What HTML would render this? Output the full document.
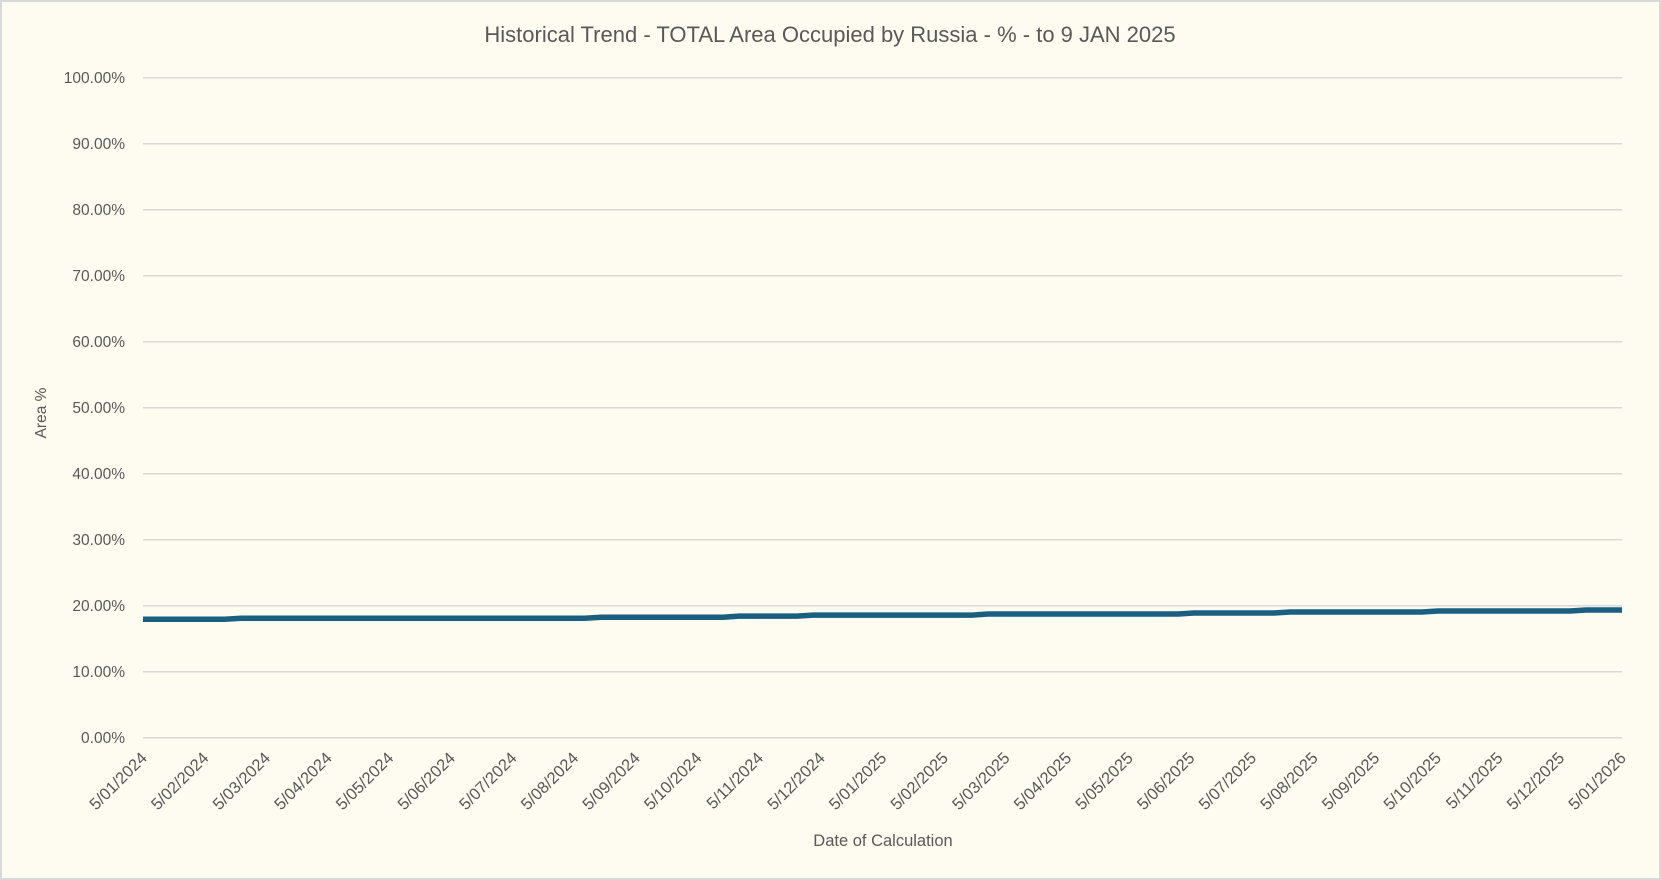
<!DOCTYPE html>
<html><head><meta charset="utf-8"><style>
html,body{margin:0;padding:0;background:#fefbf0;}
svg{display:block;font-family:"Liberation Sans",sans-serif;}
</style></head><body>
<svg width="1661" height="880" viewBox="0 0 1661 880" xmlns="http://www.w3.org/2000/svg">
<rect x="1" y="1" width="1659" height="878" fill="#fefbf0" stroke="#d9d9d9" stroke-width="2"/>
<text x="830" y="42" text-anchor="middle" font-size="22" fill="#595959">Historical Trend - TOTAL Area Occupied by Russia - % - to 9 JAN 2025</text>
<g stroke="#d9d9d9" stroke-width="1.5">
<line x1="143" x2="1622" y1="77.7" y2="77.7"/><line x1="143" x2="1622" y1="143.7" y2="143.7"/>
<line x1="143" x2="1622" y1="209.7" y2="209.7"/><line x1="143" x2="1622" y1="275.7" y2="275.7"/>
<line x1="143" x2="1622" y1="341.7" y2="341.7"/><line x1="143" x2="1622" y1="407.7" y2="407.7"/>
<line x1="143" x2="1622" y1="473.7" y2="473.7"/><line x1="143" x2="1622" y1="539.7" y2="539.7"/>
<line x1="143" x2="1622" y1="605.7" y2="605.7"/><line x1="143" x2="1622" y1="671.7" y2="671.7"/>
<line x1="143" x2="1622" y1="737.7" y2="737.7"/>
</g>
<g font-size="15.5" fill="#595959" text-anchor="end">
<text x="125" y="83">100.00%</text><text x="125" y="149">90.00%</text><text x="125" y="215">80.00%</text>
<text x="125" y="281">70.00%</text><text x="125" y="347">60.00%</text><text x="125" y="413">50.00%</text>
<text x="125" y="479">40.00%</text><text x="125" y="545">30.00%</text><text x="125" y="611">20.00%</text>
<text x="125" y="677">10.00%</text><text x="125" y="743">0.00%</text>
</g>
<text transform="translate(46,413) rotate(-90)" text-anchor="middle" font-size="15.5" fill="#595959">Area %</text>
<text x="883" y="846" text-anchor="middle" font-size="16.5" fill="#595959">Date of Calculation</text>
<polyline fill="none" stroke="#1a5e80" stroke-width="5.5" points="143,619.3 225,619.3 241,618.2 585,618.2 601,617.2 723,617.2 739,616.1 797,616.1 813,615.1 972,615.1 988,614 1178,614 1194,613 1274,613 1290,612 1422,612 1438,611 1570,611 1586,610 1622,610"/>
<g font-size="16.5" fill="#595959" text-anchor="end">
<text transform="translate(148,759) rotate(-45)">5/01/2024</text>
<text transform="translate(209.6,759) rotate(-45)">5/02/2024</text>
<text transform="translate(271.3,759) rotate(-45)">5/03/2024</text>
<text transform="translate(332.9,759) rotate(-45)">5/04/2024</text>
<text transform="translate(394.5,759) rotate(-45)">5/05/2024</text>
<text transform="translate(456.1,759) rotate(-45)">5/06/2024</text>
<text transform="translate(517.8,759) rotate(-45)">5/07/2024</text>
<text transform="translate(579.4,759) rotate(-45)">5/08/2024</text>
<text transform="translate(641,759) rotate(-45)">5/09/2024</text>
<text transform="translate(702.6,759) rotate(-45)">5/10/2024</text>
<text transform="translate(764.3,759) rotate(-45)">5/11/2024</text>
<text transform="translate(825.9,759) rotate(-45)">5/12/2024</text>
<text transform="translate(887.5,759) rotate(-45)">5/01/2025</text>
<text transform="translate(949.1,759) rotate(-45)">5/02/2025</text>
<text transform="translate(1010.8,759) rotate(-45)">5/03/2025</text>
<text transform="translate(1072.4,759) rotate(-45)">5/04/2025</text>
<text transform="translate(1134,759) rotate(-45)">5/05/2025</text>
<text transform="translate(1195.6,759) rotate(-45)">5/06/2025</text>
<text transform="translate(1257.3,759) rotate(-45)">5/07/2025</text>
<text transform="translate(1318.9,759) rotate(-45)">5/08/2025</text>
<text transform="translate(1380.5,759) rotate(-45)">5/09/2025</text>
<text transform="translate(1442.1,759) rotate(-45)">5/10/2025</text>
<text transform="translate(1503.8,759) rotate(-45)">5/11/2025</text>
<text transform="translate(1565.4,759) rotate(-45)">5/12/2025</text>
<text transform="translate(1627,759) rotate(-45)">5/01/2026</text>
</g>
</svg>
</body></html>
